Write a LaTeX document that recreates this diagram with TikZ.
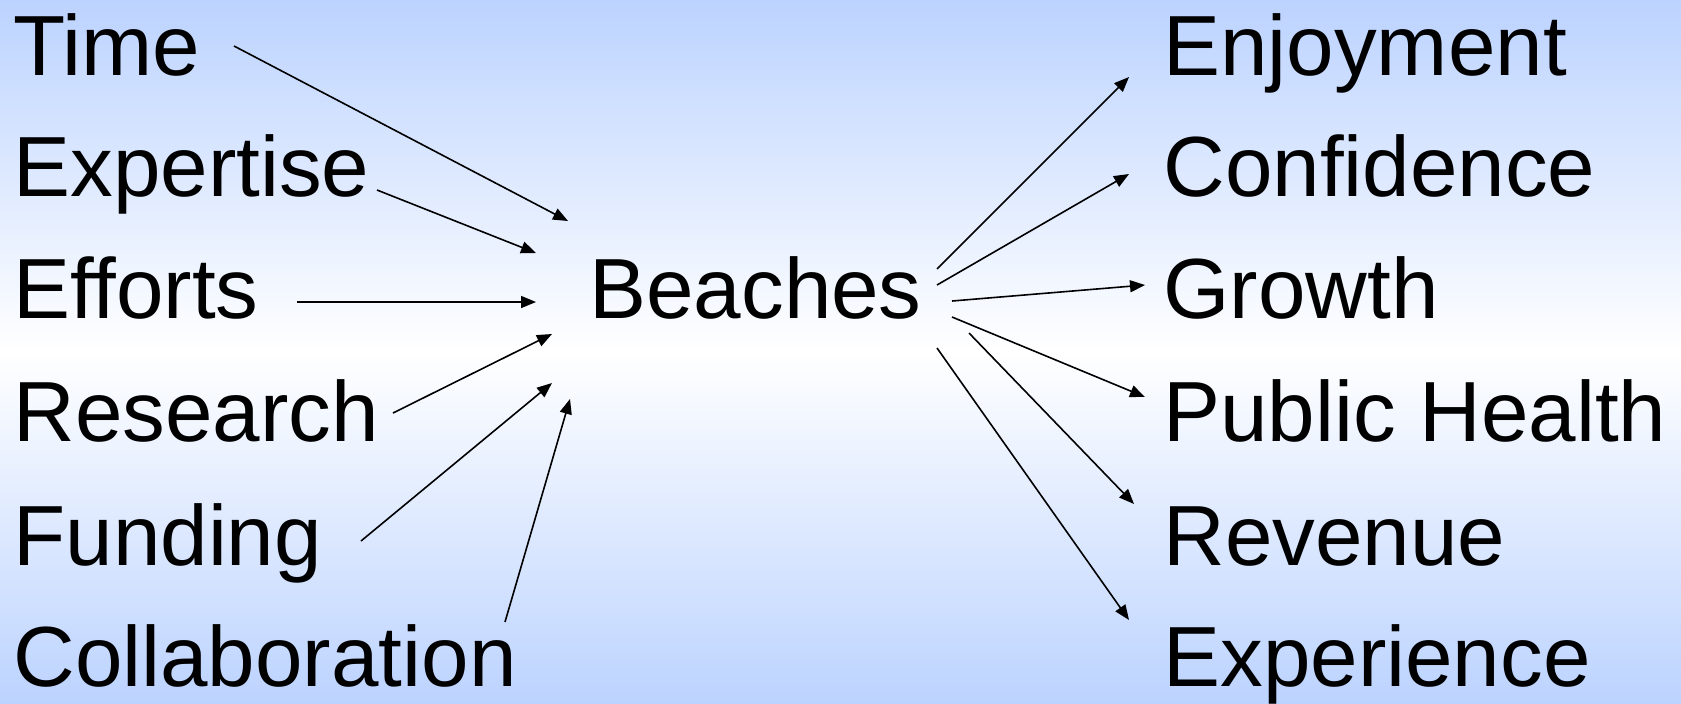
\documentclass[tikz,border=0pt]{standalone}
\usepackage{fontspec}
\setmainfont{Liberation Sans}
\usetikzlibrary{arrows.meta}
\definecolor{bgblue}{RGB}{188,211,255}
\tikzset{
  lbl/.style={anchor=base west, inner sep=0pt, font=\fontsize{42.7}{50}\selectfont},
  conn/.style={line width=0.8pt, -{Triangle[length=7.5pt,width=6pt]}}
}
\begin{document}
\begin{tikzpicture}[x=0.5pt,y=-0.5pt]
\shade[top color=bgblue, bottom color=bgblue, middle color=white] (0,0) rectangle (1681,703);
\useasboundingbox (0,0) rectangle (1681,703);
% left column
\node[lbl] (time) at (13,75) {Time};
\node[lbl] (expertise) at (13,196) {Expertise};
\node[lbl] (efforts) at (13,318) {Efforts};
\node[lbl] (research) at (13,441) {Research};
\node[lbl] (funding) at (13,565) {Funding};
\node[lbl] (collab) at (13,686) {Collaboration};
% centre
\node[lbl] (beaches) at (589,318) {Beaches};
% right column
\node[lbl] (enjoy) at (1163,75) {Enjoyment};
\node[lbl] (conf) at (1163,196) {Confidence};
\node[lbl] (growth) at (1163,318) {Growth};
\node[lbl] (health) at (1163,441) {Public Health};
\node[lbl] (revenue) at (1163,565) {Revenue};
\node[lbl] (exper) at (1163,686) {Experience};
% connector endpoints
\coordinate (a1) at (234,46);  \coordinate (b1) at (568,221);
\coordinate (a2) at (377,190); \coordinate (b2) at (536,253);
\coordinate (a3) at (297,302); \coordinate (b3) at (536,302);
\coordinate (a4) at (393,413); \coordinate (b4) at (552,334);
\coordinate (a5) at (361,541); \coordinate (b5) at (552,383);
\coordinate (a6) at (505,622); \coordinate (b6) at (570,399);
\coordinate (c1) at (937,269); \coordinate (d1) at (1129,77);
\coordinate (c2) at (937,285); \coordinate (d2) at (1129,174);
\coordinate (c3) at (952,301); \coordinate (d3) at (1145,285);
\coordinate (c4) at (952,317); \coordinate (d4) at (1145,397);
\coordinate (c5) at (969,333); \coordinate (d5) at (1134,504);
\coordinate (c6) at (937,348); \coordinate (d6) at (1129,620);
\foreach \i in {1,...,6} {
  \draw[conn] (a\i) -- (b\i);
  \draw[conn] (c\i) -- (d\i);
}
\end{tikzpicture}
\end{document}
